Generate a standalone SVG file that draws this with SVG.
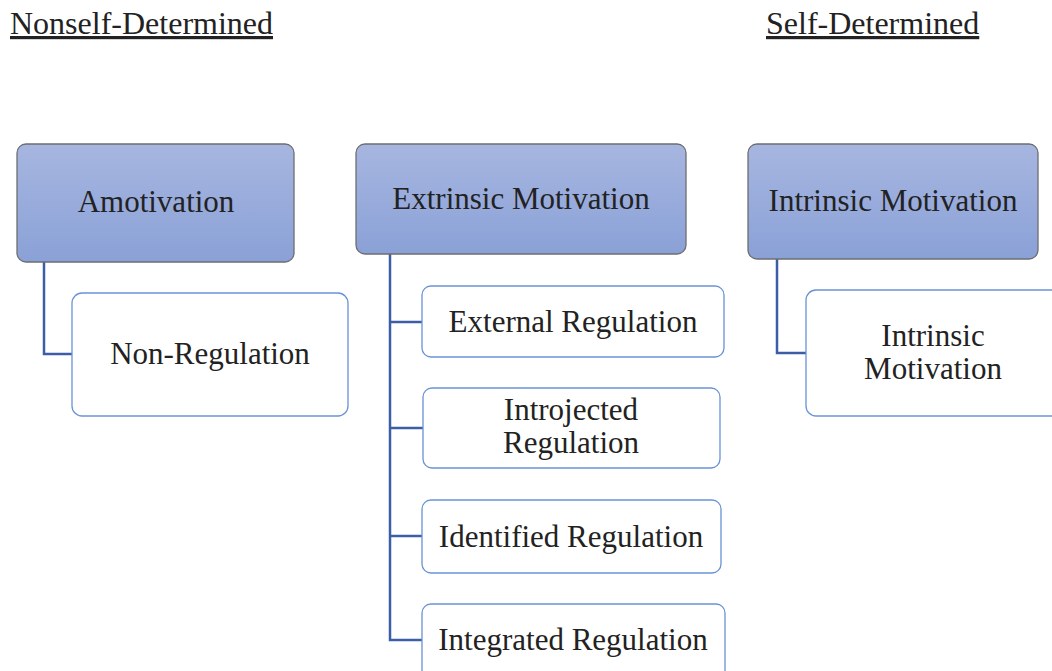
<svg xmlns="http://www.w3.org/2000/svg" width="1052" height="671" viewBox="0 0 1052 671">
<defs>
<linearGradient id="g" x1="0" y1="0" x2="0" y2="1">
<stop offset="0" stop-color="#a7b6e0"/>
<stop offset="1" stop-color="#8aa1d7"/>
</linearGradient>
<style>
.t{font-family:"Liberation Serif","Times New Roman",serif;fill:#222;text-anchor:middle;font-size:31px}
.h{font-family:"Liberation Serif","Times New Roman",serif;fill:#222;font-size:32px;text-decoration:underline}
.p{fill:url(#g);stroke:#6e6e70;stroke-width:1.3}
.c{fill:#fff;stroke:#6a92d8;stroke-width:1.3}
.l{fill:none;stroke:#3c5ea6;stroke-width:2.5}
</style>
</defs>
<text class="h" x="10" y="34">Nonself-Determined</text>
<text class="h" x="766" y="34">Self-Determined</text>
<g id="connectors">
<path class="l" d="M44 262V354H72"/>
<path class="l" d="M390 254V640H422M390 322H422M390 428H423M390 536H422"/>
<path class="l" d="M777 259V353H806"/>
</g>
<g id="amotivation"><rect class="p" x="17" y="144" width="277" height="118" rx="9"/><text class="t" x="156" y="212">Amotivation</text></g>
<g id="extrinsic"><rect class="p" x="356" y="144" width="330" height="110" rx="9"/><text class="t" x="521" y="209">Extrinsic Motivation</text></g>
<g id="intrinsic"><rect class="p" x="748" y="144" width="290" height="115" rx="9"/><text class="t" x="893" y="211">Intrinsic Motivation</text></g>
<g id="nonreg"><rect class="c" x="72" y="293" width="276" height="123" rx="10"/><text class="t" x="210" y="364">Non-Regulation</text></g>
<g id="external"><rect class="c" x="422" y="286" width="302" height="71" rx="9"/><text class="t" x="573" y="332">External Regulation</text></g>
<g id="introjected"><rect class="c" x="423" y="388" width="297" height="80" rx="9"/><text class="t" x="571" y="420">Introjected</text><text class="t" x="571" y="453">Regulation</text></g>
<g id="identified"><rect class="c" x="422" y="500" width="299" height="73" rx="9"/><text class="t" x="571" y="547">Identified Regulation</text></g>
<g id="integrated"><rect class="c" x="422" y="604" width="303" height="80" rx="9"/><text class="t" x="573" y="650">Integrated Regulation</text></g>
<g id="intrinsic-child"><rect class="c" x="806" y="290" width="260" height="126" rx="10"/><text class="t" x="933" y="346">Intrinsic</text><text class="t" x="933" y="379">Motivation</text></g>
</svg>
